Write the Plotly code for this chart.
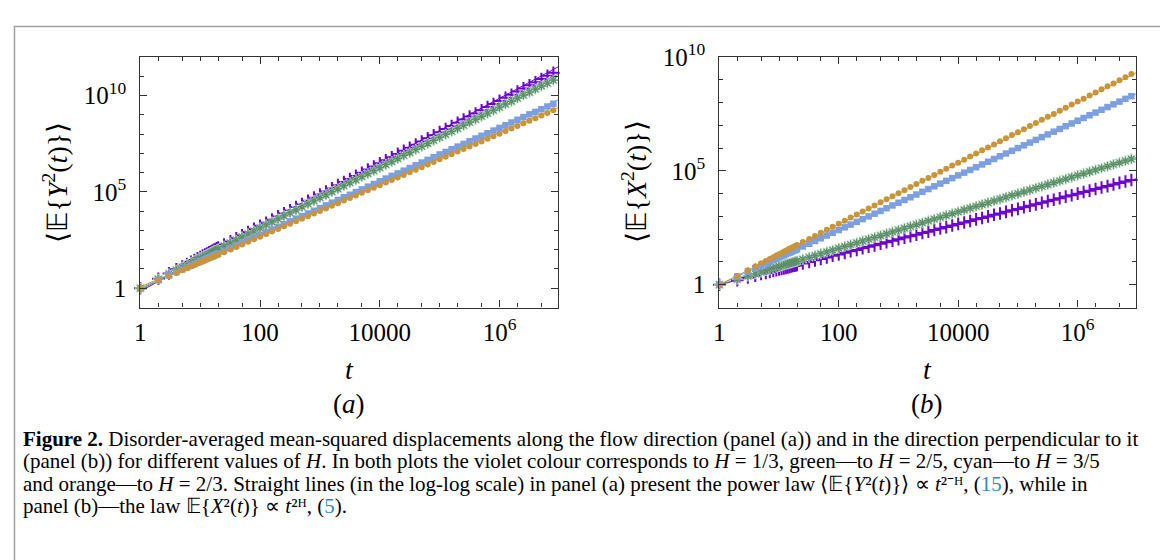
import plotly.graph_objects as go

# the page body has an 8px margin, so the figure is drawn 8px smaller and
# reference pixel positions are shifted by 8 below
OFF = 8
W, H = 1168 - OFF, 560 - OFF

# time grid (same for both panels)
t = [1, 2, 3, 4, 5, 6, 7, 8, 9, 10, 11, 12, 13, 14, 15, 16, 17, 18, 19, 20,
     25, 32, 40, 50, 63, 79,
     100, 126, 158, 200, 251, 316, 398, 501, 631, 794,
     1000, 1259, 1585, 1995, 2512, 3162, 3981, 5012, 6310, 7943,
     1.0e4, 1.259e4, 1.585e4, 1.995e4, 2.512e4, 3.162e4, 3.981e4, 5.012e4, 6.310e4, 7.943e4,
     1.0e5, 1.259e5, 1.585e5, 1.995e5, 2.512e5, 3.162e5, 3.981e5, 5.012e5, 6.310e5, 7.943e5,
     1.0e6, 1.259e6, 1.585e6, 1.995e6, 2.512e6, 3.162e6, 3.981e6, 5.012e6, 6.310e6, 7.943e6]

# panel (a): log10 <E{Y^2(t)}>
a_violet = [0.00, 0.49, 0.77, 0.98, 1.13, 1.26, 1.37, 1.46, 1.55, 1.62, 1.69, 1.75, 1.80, 1.86, 1.91, 1.95, 1.99, 2.03, 2.07, 2.11,
            2.27, 2.43, 2.59, 2.75, 2.92, 3.08,
            3.24, 3.40, 3.56, 3.73, 3.89, 4.05, 4.21, 4.37, 4.54, 4.70,
            4.86, 5.02, 5.18, 5.35, 5.51, 5.67, 5.83, 5.99, 6.16, 6.32,
            6.48, 6.64, 6.80, 6.97, 7.13, 7.29, 7.45, 7.61, 7.78, 7.94,
            8.10, 8.26, 8.42, 8.59, 8.75, 8.91, 9.07, 9.23, 9.40, 9.56,
            9.72, 9.88, 10.04, 10.21, 10.37, 10.53, 10.69, 10.85, 11.02, 11.18]
a_green = [0.00, 0.47, 0.75, 0.94, 1.09, 1.22, 1.32, 1.41, 1.49, 1.57, 1.63, 1.69, 1.74, 1.79, 1.84, 1.88, 1.92, 1.96, 2.00, 2.04,
           2.19, 2.35, 2.50, 2.66, 2.82, 2.97,
           3.13, 3.29, 3.44, 3.60, 3.76, 3.91, 4.07, 4.23, 4.38, 4.54,
           4.70, 4.85, 5.01, 5.16, 5.32, 5.48, 5.63, 5.79, 5.95, 6.10,
           6.26, 6.42, 6.57, 6.73, 6.89, 7.04, 7.20, 7.36, 7.51, 7.67,
           7.83, 7.98, 8.14, 8.29, 8.45, 8.61, 8.76, 8.92, 9.08, 9.23,
           9.39, 9.55, 9.70, 9.86, 10.02, 10.17, 10.33, 10.49, 10.64, 10.80]
a_cyan = [0.00, 0.42, 0.66, 0.83, 0.97, 1.08, 1.17, 1.25, 1.32, 1.39, 1.44, 1.50, 1.55, 1.59, 1.63, 1.67, 1.71, 1.74, 1.77, 1.80,
          1.94, 2.08, 2.22, 2.36, 2.50, 2.64,
          2.77, 2.91, 3.05, 3.19, 3.33, 3.47, 3.61, 3.74, 3.88, 4.02,
          4.16, 4.30, 4.44, 4.58, 4.72, 4.85, 4.99, 5.13, 5.27, 5.41,
          5.55, 5.69, 5.83, 5.96, 6.10, 6.24, 6.38, 6.52, 6.66, 6.80,
          6.94, 7.07, 7.21, 7.35, 7.49, 7.63, 7.77, 7.91, 8.04, 8.18,
          8.32, 8.46, 8.60, 8.74, 8.88, 9.02, 9.15, 9.29, 9.43, 9.57]
a_orange = [0.00, 0.40, 0.64, 0.80, 0.93, 1.04, 1.13, 1.21, 1.28, 1.34, 1.39, 1.44, 1.49, 1.53, 1.57, 1.61, 1.64, 1.68, 1.71, 1.74,
            1.87, 2.01, 2.14, 2.27, 2.41, 2.54,
            2.67, 2.81, 2.94, 3.08, 3.21, 3.34, 3.48, 3.61, 3.74, 3.88,
            4.01, 4.14, 4.28, 4.41, 4.55, 4.68, 4.81, 4.95, 5.08, 5.21,
            5.35, 5.48, 5.62, 5.75, 5.88, 6.02, 6.15, 6.28, 6.42, 6.55,
            6.69, 6.82, 6.95, 7.09, 7.22, 7.35, 7.49, 7.62, 7.75, 7.89,
            8.02, 8.16, 8.29, 8.42, 8.56, 8.69, 8.82, 8.96, 9.09, 9.23]

# panel (b): log10 E{X^2(t)}
b_violet = [0.00, 0.20, 0.32, 0.40, 0.47, 0.52, 0.56, 0.60, 0.64, 0.67, 0.69, 0.72, 0.74, 0.76, 0.78, 0.80, 0.82, 0.84, 0.85, 0.87,
            0.93, 1.00, 1.07, 1.13, 1.20, 1.27,
            1.33, 1.40, 1.47, 1.53, 1.60, 1.67, 1.73, 1.80, 1.87, 1.93,
            2.00, 2.07, 2.13, 2.20, 2.27, 2.33, 2.40, 2.47, 2.53, 2.60,
            2.67, 2.73, 2.80, 2.87, 2.93, 3.00, 3.07, 3.13, 3.20, 3.27,
            3.33, 3.40, 3.47, 3.53, 3.60, 3.67, 3.73, 3.80, 3.87, 3.93,
            4.00, 4.07, 4.13, 4.20, 4.27, 4.33, 4.40, 4.47, 4.53, 4.60]
b_green = [0.00, 0.24, 0.38, 0.48, 0.56, 0.62, 0.68, 0.72, 0.76, 0.80, 0.83, 0.86, 0.89, 0.92, 0.94, 0.96, 0.98, 1.00, 1.02, 1.04,
           1.12, 1.20, 1.28, 1.36, 1.44, 1.52,
           1.60, 1.68, 1.76, 1.84, 1.92, 2.00, 2.08, 2.16, 2.24, 2.32,
           2.40, 2.48, 2.56, 2.64, 2.72, 2.80, 2.88, 2.96, 3.04, 3.12,
           3.20, 3.28, 3.36, 3.44, 3.52, 3.60, 3.68, 3.76, 3.84, 3.92,
           4.00, 4.08, 4.16, 4.24, 4.32, 4.40, 4.48, 4.56, 4.64, 4.72,
           4.80, 4.88, 4.96, 5.04, 5.12, 5.20, 5.28, 5.36, 5.44, 5.52]
b_cyan = [0.00, 0.36, 0.57, 0.72, 0.84, 0.93, 1.01, 1.08, 1.14, 1.20, 1.25, 1.29, 1.34, 1.38, 1.41, 1.44, 1.48, 1.51, 1.53, 1.56,
          1.68, 1.80, 1.92, 2.04, 2.16, 2.28,
          2.40, 2.52, 2.64, 2.76, 2.88, 3.00, 3.12, 3.24, 3.36, 3.48,
          3.60, 3.72, 3.84, 3.96, 4.08, 4.20, 4.32, 4.44, 4.56, 4.68,
          4.80, 4.92, 5.04, 5.16, 5.28, 5.40, 5.52, 5.64, 5.76, 5.88,
          6.00, 6.12, 6.24, 6.36, 6.48, 6.60, 6.72, 6.84, 6.96, 7.08,
          7.20, 7.32, 7.44, 7.56, 7.68, 7.80, 7.92, 8.04, 8.16, 8.28]
b_orange = [0.00, 0.40, 0.64, 0.81, 0.94, 1.04, 1.13, 1.21, 1.28, 1.34, 1.39, 1.45, 1.49, 1.54, 1.58, 1.61, 1.65, 1.68, 1.71, 1.74,
            1.88, 2.01, 2.14, 2.28, 2.41, 2.55,
            2.68, 2.81, 2.95, 3.08, 3.22, 3.35, 3.48, 3.62, 3.75, 3.89,
            4.02, 4.15, 4.29, 4.42, 4.56, 4.69, 4.82, 4.96, 5.09, 5.23,
            5.36, 5.49, 5.63, 5.76, 5.90, 6.03, 6.16, 6.30, 6.43, 6.57,
            6.70, 6.83, 6.97, 7.10, 7.24, 7.37, 7.50, 7.64, 7.77, 7.91,
            8.04, 8.17, 8.31, 8.44, 8.58, 8.71, 8.84, 8.98, 9.11, 9.25]

# straight power-law lines, log10 values at the two ends
fit_t = [1, 1e7]
fit_a = {"violet": [-0.15, 11.52], "green": [-0.07, 11.13], "cyan": [0.0, 9.80], "orange": [0.07, 9.40]}
fit_b = {"violet": [0.0, 4.667], "green": [0.0, 5.6], "cyan": [0.0, 8.4], "orange": [0.0, 9.333]}

colors = {"violet": "#6c06cc", "green": "#5e8f6a", "cyan": "#7c9fe0", "orange": "#c8953a"}
light_green = "#a9d3b2"


def px_x(p):
    return (p - OFF) / W


def px_y(p):
    return 1 - (p - OFF) / H


fig = go.Figure()


def add_panel(xa, ya, series, fits):
    for name in ["violet", "green", "cyan", "orange"]:
        fig.add_trace(go.Scatter(x=fit_t, y=[10 ** v for v in fits[name]], mode="lines",
                                 line=dict(color=colors[name], width=1), xaxis=xa, yaxis=ya,
                                 hoverinfo="skip"))
    for name, vals in series:
        y = [10 ** v for v in vals]
        if name == "violet":
            mk = dict(symbol="cross-thin", size=9, line=dict(color=colors[name], width=2))
        elif name == "green":
            fig.add_trace(go.Scatter(x=t, y=y, mode="markers", xaxis=xa, yaxis=ya, cliponaxis=False,
                                     marker=dict(symbol="asterisk", size=9,
                                                 line=dict(color=light_green, width=1.8))))
            mk = dict(symbol="asterisk", size=7, line=dict(color=colors[name], width=1.2))
        elif name == "cyan":
            mk = dict(symbol="square", size=6.5, color=colors[name], line=dict(width=0))
        else:
            mk = dict(symbol="circle", size=6, color=colors[name], line=dict(width=0))
        fig.add_trace(go.Scatter(x=t, y=y, mode="markers", marker=mk, xaxis=xa, yaxis=ya,
                                 cliponaxis=False))


add_panel("x", "y", [("violet", a_violet), ("green", a_green), ("cyan", a_cyan), ("orange", a_orange)], fit_a)
add_panel("x2", "y2", [("violet", b_violet), ("green", b_green), ("cyan", b_cyan), ("orange", b_orange)], fit_b)

serif = "Liberation Serif"
tick_font = dict(family=serif, size=25, color="black")
x_minor = [m * 10 ** k for k in range(0, 7) for m in (2, 5, 10) if m * 10 ** k not in (100, 10000, 1000000)]
axis_common = dict(type="log", showline=True, linecolor="#333", linewidth=1.3, mirror="ticks",
                   ticks="inside", ticklen=7, tickwidth=1.3, tickcolor="#333", showgrid=False,
                   zeroline=False, tickfont=tick_font)

xa = dict(axis_common, range=[0, 6.98], tickmode="array",
          tickvals=[1, 100, 10000, 1e6], ticktext=["1", "100", "10000", "10<sup>6</sup>"],
          ticklabelstandoff=2,
          minor=dict(tickmode="array", tickvals=x_minor, ticks="inside", ticklen=4, tickwidth=1,
                     tickcolor="#333", showgrid=False))


def y_axis(lo, hi):
    return dict(axis_common, range=[lo, hi], tickmode="array",
                tickvals=[1, 1e5, 1e10], ticktext=["1", "10<sup>5</sup>", "10<sup>10</sup>"],
                ticklabelstandoff=8,
                minor=dict(tickmode="array",
                           tickvals=[10 ** k for k in range(lo, hi + 1) if k not in (0, 5, 10)],
                           ticks="inside", ticklen=4, tickwidth=1, tickcolor="#333", showgrid=False))


dom_y = [px_y(299), px_y(40)]
fig.update_layout(
    width=W, height=H, margin=dict(l=0, r=0, t=0, b=0),
    paper_bgcolor="white", plot_bgcolor="white", showlegend=False,
    xaxis=dict(xa, domain=[px_x(135), px_x(555)], anchor="y"),
    yaxis=dict(y_axis(-1, 12), domain=dom_y, anchor="x"),
    xaxis2=dict(xa, domain=[px_x(717), px_x(1136)], anchor="y2"),
    yaxis2=dict(y_axis(-1, 10), domain=dom_y, anchor="x2"),
)

ann = []
for cx, ylab, tag in [(345, "⟨𝔼{<i>Y</i><sup>2</sup>(<i>t</i>)}⟩", "a"),
                      (926, "⟨𝔼{<i>X</i><sup>2</sup>(<i>t</i>)}⟩", "b")]:
    ann.append(dict(x=px_x(cx), y=px_y(363), text="<i>t</i>",
                    font=dict(family=serif, size=28, color="black")))
    ann.append(dict(x=px_x(cx), y=px_y(399), text="(<i>%s</i>)" % tag,
                    font=dict(family=serif, size=27, color="black")))
    ann.append(dict(x=px_x(50 if tag == "a" else 632), y=px_y(169), text=ylab, textangle=-90,
                    font=dict(family=serif, size=28, color="black")))

blue = "#2f86c8"
caption = [
    "<b>Figure 2.</b> Disorder-averaged mean-squared displacements along the flow direction (panel (a)) and in the direction perpendicular to it",
    "(panel (b)) for different values of <i>H</i>. In both plots the violet colour corresponds to <i>H</i> = 1/3, green—to <i>H</i> = 2/5, cyan—to <i>H</i> = 3/5",
    "and orange—to <i>H</i> = 2/3. Straight lines (in the log-log scale) in panel (a) present the power law ⟨𝔼{<i>Y</i>²(<i>t</i>)}⟩ ∝ <i>t</i>²⁻ᴴ, (<span style='color:%s'>15</span>), while in" % blue,
    "panel (b)—the law 𝔼{<i>X</i>²(<i>t</i>)} ∝ <i>t</i>²ᴴ, (<span style='color:%s'>5</span>)." % blue,
]
for i, line in enumerate(caption):
    ann.append(dict(x=px_x(15), y=px_y(435 + 23 * i), xanchor="left", text=line,
                    font=dict(family=serif, size=21, color="black")))
for a in ann:
    a.setdefault("xanchor", "center")
    a.update(xref="paper", yref="paper", yanchor="middle", showarrow=False)
fig.update_layout(annotations=ann)

# thin grey frame around the figure (open at the bottom, like the cropped reference)
fig.add_shape(type="rect", xref="paper", yref="paper", x0=0.5 / W, x1=px_x(1162), y0=-0.05, y1=1 - 0.5 / H,
              line=dict(color="#a0a0a0", width=1.5), fillcolor="rgba(0,0,0,0)", layer="below")

fig.write_html("out.html")
